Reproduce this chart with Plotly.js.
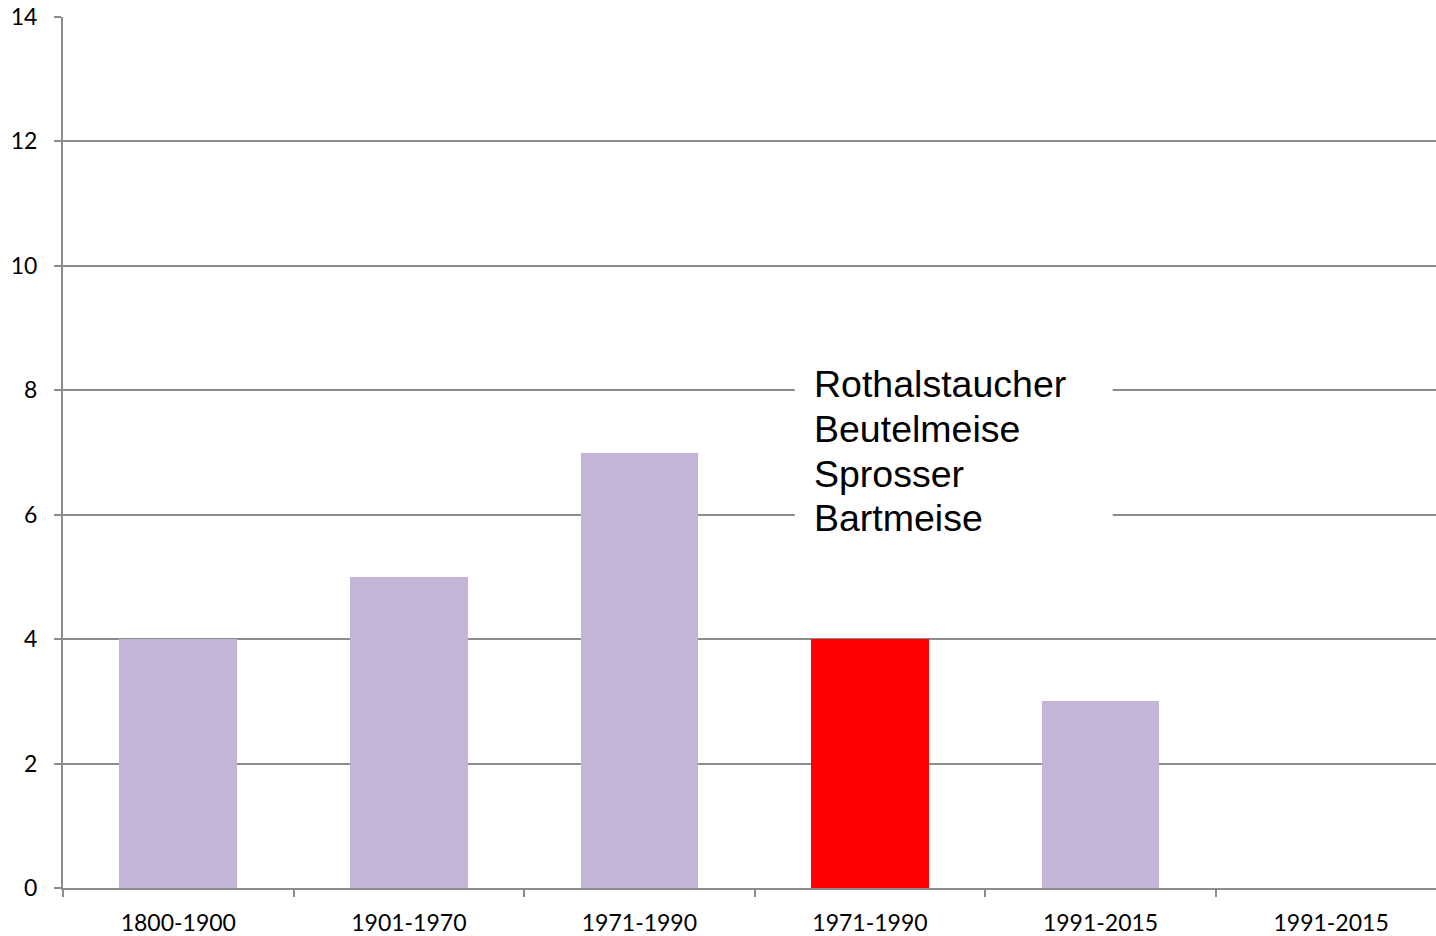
<!DOCTYPE html>
<html>
<head>
<meta charset="utf-8">
<script src="https://cdn.plot.ly/plotly-3.0.1.min.js"></script>
<style>
  html, body { margin: 0; padding: 0; background: #fff; }
  #myDiv { width: 1436px; height: 936px; }
</style>
</head>
<body>
<div id="myDiv"></div>
<script>
// periods (two of them appear twice on the axis)
var periods = ['1800-1900', '1901-1970', '1971-1990', '1971-1990', '1991-2015', '1991-2015'];
var counts = [4, 5, 7, 4, 3, 0];
var barColors = ['#c4b5d8', '#c4b5d8', '#c4b5d8', '#ff0000', '#c4b5d8', '#c4b5d8'];
var yTicks = [0, 2, 4, 6, 8, 10, 12, 14];

// species named in the box
var species = ['Rothalstaucher', 'Beutelmeise', 'Sprosser', 'Bartmeise'];

var xpos = [];
for (var i = 0; i < periods.length; i++) {
  xpos.push(i);
}

var data = [{
  x: xpos,
  y: counts,
  type: 'bar',
  width: 0.51,
  marker: { color: barColors, line: { width: 0 } },
  hoverinfo: 'x+y'
}];

var gridCol = '#8c8c8c';

var annotations = [];
for (var k = 0; k < species.length; k++) {
  annotations.push({
    xref: 'x', yref: 'y',
    x: 2.748,
    y: 8.1 - k * 0.72,
    xanchor: 'left', yanchor: 'middle',
    text: species[k],
    showarrow: false,
    font: { family: 'Liberation Sans, Arial, sans-serif', size: 37.5, color: '#000' }
  });
}

var layout = {
  width: 1436,
  height: 936,
  margin: { l: 63, r: 0, t: 17, b: 48 },
  paper_bgcolor: '#fff',
  plot_bgcolor: '#fff',
  showlegend: false,
  bargap: 0,
  font: { family: 'Lato, sans-serif', size: 23, color: '#000' },
  xaxis: {
    // the last category runs a little past the right edge
    range: [-0.5, 5.455],
    tickmode: 'array',
    tickvals: xpos,
    ticktext: periods,
    ticks: '',
    showgrid: false,
    zeroline: false,
    showline: true,
    linecolor: gridCol,
    linewidth: 2,
    ticklabelstandoff: 13,
    minor: {
      tickmode: 'linear',
      tick0: -0.5,
      dtick: 1,
      ticks: 'outside',
      ticklen: 7,
      tickwidth: 2,
      tickcolor: gridCol,
      showgrid: false
    },
    fixedrange: true
  },
  yaxis: {
    range: [0, 14],
    tickmode: 'array',
    tickvals: yTicks,
    ticks: 'outside',
    ticklen: 7,
    tickwidth: 2,
    tickcolor: gridCol,
    showgrid: true,
    gridcolor: gridCol,
    gridwidth: 2,
    zeroline: false,
    showline: true,
    linecolor: gridCol,
    linewidth: 2,
    ticklabelstandoff: 12,
    fixedrange: true
  },
  shapes: [{
    type: 'rect',
    xref: 'x', yref: 'y',
    x0: 2.674, x1: 4.053,
    y0: 5.6, y1: 8.4,
    fillcolor: '#fff',
    line: { width: 0 },
    layer: 'above'
  }],
  annotations: annotations
};

Plotly.newPlot('myDiv', data, layout, { displayModeBar: false, staticPlot: true });
</script>
</body>
</html>
